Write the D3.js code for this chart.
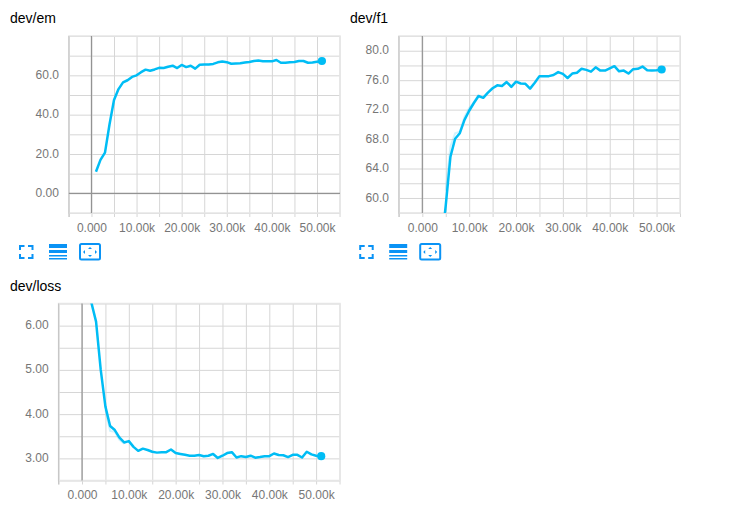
<!DOCTYPE html>
<html><head><meta charset="utf-8">
<script src="https://cdn.jsdelivr.net/npm/d3@7"></script>
<style>
html,body{margin:0;padding:0;background:#fff;}
svg{display:block;}
text{font-family:"Liberation Sans",Arial,sans-serif;}
</style></head><body>
<svg id="c" width="732" height="508"></svg>
<script>
const titles = ["dev/em","dev/f1","dev/loss"];
const xTickValues = [-5000,0,5000,10000,15000,20000,25000,30000,35000,40000,45000,50000,55000];
const xTickLabels = {0:"0.000",10000:"10.00k",20000:"20.00k",30000:"30.00k",40000:"40.00k",50000:"50.00k"};

const emSteps = d3.range(1,52).map(k=>k*1000);
const emValues = [11,17,20.7,35,47.5,53,56.4,57.5,59.2,60,61.6,62.9,62.3,63,63.8,63.7,64.4,64.9,63.7,65.3,64.2,64.9,63.4,65.4,65.5,65.5,65.8,66.6,67,66.7,65.9,66,66.1,66.5,66.8,67.3,67.5,67.2,67.1,67.1,67.8,66.4,66.4,66.7,66.8,67.3,67.3,66.4,66.5,66.9,67.3];
const emTicks = [-10,0,10,20,30,40,50,60,70,80];
const emLabels = {0:"0.00",20:"20.0",40:"40.0",60:"60.0"};

const f1Steps = d3.range(4,52).map(k=>k*1000);
const f1Values = [53,59,65.6,68.05,68.8,70.6,71.85,72.9,73.85,73.6,74.3,74.9,75.3,75.2,75.75,75.1,75.8,75.55,75.5,74.85,75.65,76.55,76.55,76.55,76.7,77.1,76.85,76.3,76.9,77,77.55,77.4,77.15,77.75,77.3,77.3,77.6,77.9,77.2,77.3,76.9,77.5,77.55,77.85,77.35,77.3,77.35,77.45];
const f1Ticks = [58,60,62,64,66,68,70,72,74,76,78,80,82];
const f1Labels = {60:"60.0",64:"64.0",68:"68.0",72:"72.0",76:"76.0",80:"80.0"};
const f1RawSteps = [5000,6000,7000,8000,9000,10000,11000,12000];
const f1RawValues = [61,67,68.8,69,71,72.2,73,74];

const lossSteps = d3.range(1,52).map(k=>k*1000);
const lossValues = [7.5,6.52,6.09,5.0,4.17,3.73,3.64,3.47,3.36,3.39,3.26,3.17,3.22,3.19,3.15,3.13,3.14,3.14,3.2,3.12,3.1,3.08,3.06,3.06,3.075,3.05,3.06,3.1,3.01,3.06,3.12,3.14,3.02,3.05,3.03,3.06,3.015,3.03,3.05,3.05,3.11,3.075,3.07,3.03,3.08,3.08,3.02,3.15,3.09,3.06,3.05];
const lossTicks = [2.5,3,3.5,4,4.5,5,5.5,6,6.5];
const lossLabels = {3:"3.00",4:"4.00",5:"5.00",6:"6.00"};
const lossRawSteps = [5000,6000,7000,8000,9000];
const lossRawValues = [4.1,3.62,3.6,3.42,3.33];

const svg = d3.select("#c");
const lineColor = "#00bdf5", iconColor = "#0a93f5";

const panels = [
 {title:titles[0],tx:10,ty:23,l:68.9,r:340,t:36,b:213,xd:[-5000,55100],yd:[-10,80],ticks:emTicks,labels:emLabels,steps:emSteps,vals:emValues,icons:0},
 {title:titles[1],tx:350,ty:23,l:398.9,r:680,t:36,b:213,xd:[-5000,55000],yd:[57.96,82],ticks:f1Ticks,labels:f1Labels,steps:f1Steps,vals:f1Values,rs:f1RawSteps,rv:f1RawValues,icons:340.2},
 {title:titles[2],tx:10,ty:291,l:58.6,r:340,t:303.5,b:480.5,xd:[-5000,55100],yd:[2.5,6.5],ticks:lossTicks,labels:lossLabels,steps:lossSteps,vals:lossValues,rs:lossRawSteps,rv:lossRawValues,icons:null}
];

panels.forEach((p,i)=>{
  const x = d3.scaleLinear().domain(p.xd).range([p.l,p.r]);
  const y = d3.scaleLinear().domain(p.yd).range([p.b,p.t]);
  const h = p.b-p.t, w = p.r-p.l;
  svg.append("text").attr("x",p.tx).attr("y",p.ty).attr("font-size",14).attr("fill","#000").text(p.title);

  const gx = svg.append("g").attr("transform",`translate(0,${p.b})`)
    .call(d3.axisBottom(x).tickValues(xTickValues.filter(v=>x(v)<=p.r+0.5)).tickSize(4).tickPadding(6).tickFormat(v=>xTickLabels[v]||""));
  gx.select(".domain").remove();
  gx.selectAll(".tick line").attr("stroke","#d6d6d6").attr("y1",-h).attr("y2",4);
  gx.selectAll(".tick text").attr("fill","#767676").attr("font-size",12).attr("font-family",null);

  const gy = svg.append("g").attr("transform",`translate(${p.l},0)`)
    .call(d3.axisLeft(y).tickValues(p.ticks).tickSize(0).tickPadding(10).tickFormat(v=>p.labels[v]||""));
  gy.select(".domain").remove();
  gy.selectAll(".tick line").attr("stroke","#d6d6d6").attr("x2",w);
  gy.selectAll(".tick text").attr("fill","#767676").attr("font-size",12).attr("font-family",null).attr("y",-0.8);

  // plot frame
  svg.append("rect").attr("x",p.l).attr("y",p.t).attr("width",w).attr("height",h)
    .attr("fill","none").attr("stroke","#e6e6e6").attr("stroke-width",1.5);
  svg.append("line").attr("x1",p.l).attr("x2",p.l).attr("y1",p.t).attr("y2",p.b+4).attr("stroke","#c4c4c4").attr("stroke-width",1);

  // zero axes
  svg.append("line").attr("x1",x(0)).attr("x2",x(0)).attr("y1",p.t).attr("y2",p.b).attr("stroke","#939393").attr("stroke-width",1.2);
  if(p.yd[0]<0) svg.append("line").attr("x1",p.l).attr("x2",p.r).attr("y1",y(0)).attr("y2",y(0)).attr("stroke","#939393").attr("stroke-width",1.2);

  const clipId = "clip"+i;
  svg.append("clipPath").attr("id",clipId).append("rect").attr("x",p.l).attr("y",p.t).attr("width",w).attr("height",h);
  const g = svg.append("g").attr("clip-path",`url(#${clipId})`);
  const line = d3.line().x(d=>x(d[0])).y(d=>y(d[1]));
  if(p.rs) g.append("path").datum(d3.zip(p.rs,p.rv)).attr("d",line).attr("fill","none").attr("stroke",lineColor).attr("stroke-opacity",0.18).attr("stroke-width",2);
  g.append("path").datum(d3.zip(p.steps,p.vals)).attr("d",line).attr("fill","none").attr("stroke",lineColor).attr("stroke-width",2.5).attr("stroke-linejoin","round");
  svg.append("circle").attr("cx",x(p.steps[p.steps.length-1])+0.4).attr("cy",y(p.vals[p.vals.length-1])).attr("r",4.1).attr("fill",lineColor);

  if(p.icons!==null){
    const ic = svg.append("g").attr("transform",`translate(${p.icons},0)`);
    ic.append("path").attr("fill","none").attr("stroke",iconColor).attr("stroke-width",2)
      .attr("d","M20 250V246H24.5M28 246H32.5V250M32.5 254V258H28M24.5 258H20V254");
    ic.append("rect").attr("x",49).attr("y",244).attr("width",18).attr("height",4).attr("fill",iconColor);
    ic.append("rect").attr("x",49).attr("y",250).attr("width",18).attr("height",3).attr("fill",iconColor);
    ic.append("rect").attr("x",49).attr("y",255).attr("width",18).attr("height",1.5).attr("fill",iconColor);
    ic.append("rect").attr("x",49).attr("y",258).attr("width",18).attr("height",1.5).attr("fill",iconColor);
    ic.append("rect").attr("x",80).attr("y",244).attr("width",20).attr("height",15.5).attr("rx",1.5).attr("fill","none").attr("stroke",iconColor).attr("stroke-width",2);
    ic.append("path").attr("fill",iconColor).attr("d","M90 247l2 2h-4zM90 257l2-2h-4zM83 252l2-2v4zM97 252l-2-2v4z");
  }
});
</script>
</body></html>
